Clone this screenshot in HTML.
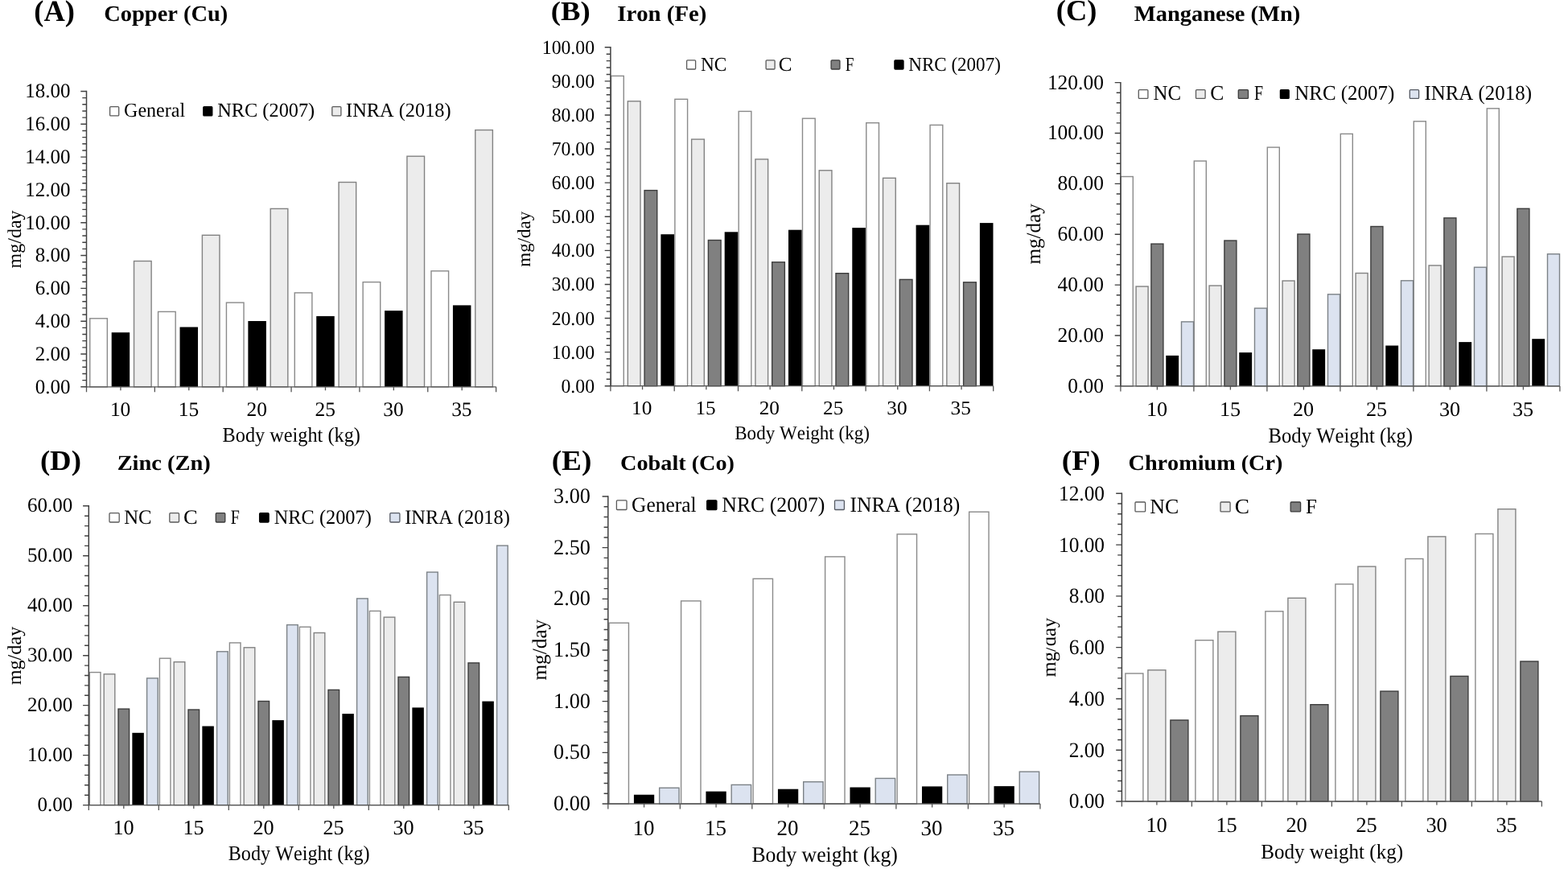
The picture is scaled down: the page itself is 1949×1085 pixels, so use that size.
<!DOCTYPE html>
<html><head><meta charset="utf-8"><title>Mineral requirements</title>
<style>
html,body{margin:0;padding:0;background:#fff;}
body{width:1949px;height:1085px;overflow:hidden;}
svg{display:block;font-family:'Liberation Serif','Times New Roman',serif;font-kerning:none;text-rendering:geometricPrecision;}
</style></head><body>
<svg width="1949" height="1085" viewBox="0 0 1949 1085">
<rect width="1949" height="1085" fill="#fff"/>
<defs><clipPath id="clipF"><rect x="1300.5" y="700" width="40" height="200"/></clipPath></defs>
<rect x="111.73" y="395.80" width="21.60" height="85.00" fill="#ffffff" stroke="#8a8a8a" stroke-width="1.40"/>
<rect x="196.57" y="387.40" width="21.60" height="93.40" fill="#ffffff" stroke="#8a8a8a" stroke-width="1.40"/>
<rect x="281.43" y="376.10" width="21.60" height="104.70" fill="#ffffff" stroke="#8a8a8a" stroke-width="1.40"/>
<rect x="366.28" y="363.90" width="21.60" height="116.90" fill="#ffffff" stroke="#8a8a8a" stroke-width="1.40"/>
<rect x="451.13" y="350.60" width="21.60" height="130.20" fill="#ffffff" stroke="#8a8a8a" stroke-width="1.40"/>
<rect x="535.98" y="336.80" width="21.60" height="144.00" fill="#ffffff" stroke="#8a8a8a" stroke-width="1.40"/>
<rect x="138.68" y="413.20" width="22.50" height="67.60" fill="#000"/>
<rect x="223.53" y="406.50" width="22.50" height="74.30" fill="#000"/>
<rect x="308.38" y="399.00" width="22.50" height="81.80" fill="#000"/>
<rect x="393.23" y="392.90" width="22.50" height="87.90" fill="#000"/>
<rect x="478.08" y="386.10" width="22.50" height="94.70" fill="#000"/>
<rect x="562.93" y="379.40" width="22.50" height="101.40" fill="#000"/>
<rect x="166.53" y="324.50" width="21.60" height="156.30" fill="#ececec" stroke="#828282" stroke-width="1.40"/>
<rect x="251.38" y="292.30" width="21.60" height="188.50" fill="#ececec" stroke="#828282" stroke-width="1.40"/>
<rect x="336.22" y="259.40" width="21.60" height="221.40" fill="#ececec" stroke="#828282" stroke-width="1.40"/>
<rect x="421.07" y="226.50" width="21.60" height="254.30" fill="#ececec" stroke="#828282" stroke-width="1.40"/>
<rect x="505.93" y="194.20" width="21.60" height="286.60" fill="#ececec" stroke="#828282" stroke-width="1.40"/>
<rect x="590.78" y="161.60" width="21.60" height="319.20" fill="#ececec" stroke="#828282" stroke-width="1.40"/>
<path d="M107.50 480.80 H616.60" fill="none" stroke="#555" stroke-width="1.3"/>
<path d="M107.50 112.80 V481.40" fill="none" stroke="#404040" stroke-width="1.5"/>
<path d="M100.30 480.80H107.50M102.30 472.64H107.50M102.30 464.48H107.50M102.30 456.31H107.50M102.30 448.15H107.50M100.30 439.99H107.50M102.30 431.83H107.50M102.30 423.66H107.50M102.30 415.50H107.50M102.30 407.34H107.50M100.30 399.18H107.50M102.30 391.02H107.50M102.30 382.85H107.50M102.30 374.69H107.50M102.30 366.53H107.50M100.30 358.37H107.50M102.30 350.20H107.50M102.30 342.04H107.50M102.30 333.88H107.50M102.30 325.72H107.50M100.30 317.56H107.50M102.30 309.39H107.50M102.30 301.23H107.50M102.30 293.07H107.50M102.30 284.91H107.50M100.30 276.74H107.50M102.30 268.58H107.50M102.30 260.42H107.50M102.30 252.26H107.50M102.30 244.10H107.50M100.30 235.93H107.50M102.30 227.77H107.50M102.30 219.61H107.50M102.30 211.45H107.50M102.30 203.28H107.50M100.30 195.12H107.50M102.30 186.96H107.50M102.30 178.80H107.50M102.30 170.64H107.50M102.30 162.47H107.50M100.30 154.31H107.50M102.30 146.15H107.50M102.30 137.99H107.50M102.30 129.82H107.50M102.30 121.66H107.50M100.30 113.50H107.50" fill="none" stroke="#404040" stroke-width="1.4"/>
<path d="M107.50 480.80V487.30M149.93 480.80V485.30M192.35 480.80V487.30M234.78 480.80V485.30M277.20 480.80V487.30M319.62 480.80V485.30M362.05 480.80V487.30M404.48 480.80V485.30M446.90 480.80V487.30M489.33 480.80V485.30M531.75 480.80V487.30M574.18 480.80V485.30M616.60 480.80V487.30" fill="none" stroke="#555" stroke-width="1.3"/>
<rect x="136.60" y="132.60" width="11.10" height="11.30" rx="1" fill="#ffffff" stroke="#5a5a5a" stroke-width="1.3"/>
<rect x="252.80" y="132.60" width="11.00" height="11.30" rx="1" fill="#000000" stroke="#000" stroke-width="1.3"/>
<rect x="412.80" y="132.60" width="11.10" height="11.30" rx="1" fill="#ececec" stroke="#5a5a5a" stroke-width="1.3"/>
<text transform="translate(154.01,145.40) scale(0.973,1)" font-size="24.74" fill="#000">General</text>
<text transform="translate(270.30,145.40) scale(0.983,1)" font-size="24.74" fill="#000">NRC (2007)</text>
<text transform="translate(430.12,145.40) scale(0.984,1)" font-size="24.74" fill="#000">INRA (2018)</text>
<text transform="translate(43.85,488.60) scale(0.988,1)" font-size="25.27" fill="#000">0.00</text>
<text transform="translate(43.85,447.79) scale(0.988,1)" font-size="25.27" fill="#000">2.00</text>
<text transform="translate(43.85,406.98) scale(0.988,1)" font-size="25.27" fill="#000">4.00</text>
<text transform="translate(43.85,366.17) scale(0.988,1)" font-size="25.27" fill="#000">6.00</text>
<text transform="translate(43.85,325.36) scale(0.988,1)" font-size="25.27" fill="#000">8.00</text>
<text transform="translate(31.36,284.55) scale(0.988,1)" font-size="25.27" fill="#000">10.00</text>
<text transform="translate(31.36,243.74) scale(0.988,1)" font-size="25.27" fill="#000">12.00</text>
<text transform="translate(31.36,202.92) scale(0.988,1)" font-size="25.27" fill="#000">14.00</text>
<text transform="translate(31.36,162.11) scale(0.988,1)" font-size="25.27" fill="#000">16.00</text>
<text transform="translate(31.36,121.30) scale(0.988,1)" font-size="25.27" fill="#000">18.00</text>
<text transform="translate(136.89,517.35) scale(1.011,1)" font-size="25.19" fill="#000">10</text>
<text transform="translate(221.74,517.35) scale(1.011,1)" font-size="25.19" fill="#000">15</text>
<text transform="translate(306.59,517.35) scale(1.011,1)" font-size="25.19" fill="#000">20</text>
<text transform="translate(391.44,517.35) scale(1.011,1)" font-size="25.19" fill="#000">25</text>
<text transform="translate(476.29,517.35) scale(1.011,1)" font-size="25.19" fill="#000">30</text>
<text transform="translate(561.14,517.35) scale(1.011,1)" font-size="25.19" fill="#000">35</text>
<text transform="translate(276.60,549.40) scale(0.941,1)" font-size="25.81" fill="#000">Body weight (kg)</text>
<text transform="translate(26.00,333.40) rotate(-90)" font-size="24.00" fill="#000">mg/day</text>
<text transform="translate(42.30,25.70) scale(0.986,1)" font-size="36.96" font-weight="bold" fill="#000">(A)</text>
<text transform="translate(129.31,25.70) scale(1.029,1)" font-size="27.64" font-weight="bold" fill="#000">Copper (Cu)</text>
<rect x="759.57" y="94.40" width="15.70" height="385.30" fill="#ffffff" stroke="#8a8a8a" stroke-width="1.40"/>
<rect x="838.88" y="123.30" width="15.70" height="356.40" fill="#ffffff" stroke="#8a8a8a" stroke-width="1.40"/>
<rect x="918.17" y="138.40" width="15.70" height="341.30" fill="#ffffff" stroke="#8a8a8a" stroke-width="1.40"/>
<rect x="997.48" y="147.20" width="15.70" height="332.50" fill="#ffffff" stroke="#8a8a8a" stroke-width="1.40"/>
<rect x="1076.78" y="152.70" width="15.70" height="327.00" fill="#ffffff" stroke="#8a8a8a" stroke-width="1.40"/>
<rect x="1156.08" y="155.40" width="15.70" height="324.30" fill="#ffffff" stroke="#8a8a8a" stroke-width="1.40"/>
<rect x="780.32" y="125.80" width="15.70" height="353.90" fill="#ececec" stroke="#828282" stroke-width="1.40"/>
<rect x="859.62" y="173.10" width="15.70" height="306.60" fill="#ececec" stroke="#828282" stroke-width="1.40"/>
<rect x="938.92" y="197.90" width="15.70" height="281.80" fill="#ececec" stroke="#828282" stroke-width="1.40"/>
<rect x="1018.23" y="211.80" width="15.70" height="267.90" fill="#ececec" stroke="#828282" stroke-width="1.40"/>
<rect x="1097.53" y="221.30" width="15.70" height="258.40" fill="#ececec" stroke="#828282" stroke-width="1.40"/>
<rect x="1176.83" y="227.70" width="15.70" height="252.00" fill="#ececec" stroke="#828282" stroke-width="1.40"/>
<rect x="801.07" y="236.60" width="15.70" height="243.10" fill="#808080" stroke="#3c3c3c" stroke-width="1.40"/>
<rect x="880.38" y="298.50" width="15.70" height="181.20" fill="#808080" stroke="#3c3c3c" stroke-width="1.40"/>
<rect x="959.67" y="325.80" width="15.70" height="153.90" fill="#808080" stroke="#3c3c3c" stroke-width="1.40"/>
<rect x="1038.98" y="339.70" width="15.70" height="140.00" fill="#808080" stroke="#3c3c3c" stroke-width="1.40"/>
<rect x="1118.28" y="347.40" width="15.70" height="132.30" fill="#808080" stroke="#3c3c3c" stroke-width="1.40"/>
<rect x="1197.58" y="350.80" width="15.70" height="128.90" fill="#808080" stroke="#3c3c3c" stroke-width="1.40"/>
<rect x="821.38" y="291.20" width="16.60" height="188.50" fill="#000"/>
<rect x="900.68" y="288.30" width="16.60" height="191.40" fill="#000"/>
<rect x="979.98" y="285.70" width="16.60" height="194.00" fill="#000"/>
<rect x="1059.28" y="283.10" width="16.60" height="196.60" fill="#000"/>
<rect x="1138.58" y="279.70" width="16.60" height="200.00" fill="#000"/>
<rect x="1217.88" y="277.10" width="16.60" height="202.60" fill="#000"/>
<path d="M758.90 479.70 H1234.70" fill="none" stroke="#555" stroke-width="1.3"/>
<path d="M758.90 58.10 V480.30" fill="none" stroke="#404040" stroke-width="1.5"/>
<path d="M751.70 479.70H758.90M753.70 471.28H758.90M753.70 462.86H758.90M753.70 454.45H758.90M753.70 446.03H758.90M751.70 437.61H758.90M753.70 429.19H758.90M753.70 420.77H758.90M753.70 412.36H758.90M753.70 403.94H758.90M751.70 395.52H758.90M753.70 387.10H758.90M753.70 378.68H758.90M753.70 370.27H758.90M753.70 361.85H758.90M751.70 353.43H758.90M753.70 345.01H758.90M753.70 336.59H758.90M753.70 328.18H758.90M753.70 319.76H758.90M751.70 311.34H758.90M753.70 302.92H758.90M753.70 294.50H758.90M753.70 286.09H758.90M753.70 277.67H758.90M751.70 269.25H758.90M753.70 260.83H758.90M753.70 252.41H758.90M753.70 244.00H758.90M753.70 235.58H758.90M751.70 227.16H758.90M753.70 218.74H758.90M753.70 210.32H758.90M753.70 201.91H758.90M753.70 193.49H758.90M751.70 185.07H758.90M753.70 176.65H758.90M753.70 168.23H758.90M753.70 159.82H758.90M753.70 151.40H758.90M751.70 142.98H758.90M753.70 134.56H758.90M753.70 126.14H758.90M753.70 117.73H758.90M753.70 109.31H758.90M751.70 100.89H758.90M753.70 92.47H758.90M753.70 84.05H758.90M753.70 75.64H758.90M753.70 67.22H758.90M751.70 58.80H758.90" fill="none" stroke="#404040" stroke-width="1.4"/>
<path d="M758.90 479.70V486.20M798.55 479.70V484.20M838.20 479.70V486.20M877.85 479.70V484.20M917.50 479.70V486.20M957.15 479.70V484.20M996.80 479.70V486.20M1036.45 479.70V484.20M1076.10 479.70V486.20M1115.75 479.70V484.20M1155.40 479.70V486.20M1195.05 479.70V484.20M1234.70 479.70V486.20" fill="none" stroke="#555" stroke-width="1.3"/>
<rect x="853.60" y="74.80" width="11.00" height="11.20" rx="1" fill="#ffffff" stroke="#5a5a5a" stroke-width="1.3"/>
<rect x="952.10" y="74.80" width="11.00" height="11.20" rx="1" fill="#ececec" stroke="#5a5a5a" stroke-width="1.3"/>
<rect x="1033.10" y="74.80" width="10.80" height="11.20" rx="1" fill="#808080" stroke="#3a3a3a" stroke-width="1.3"/>
<rect x="1111.90" y="74.80" width="11.10" height="11.20" rx="1" fill="#000000" stroke="#000" stroke-width="1.3"/>
<text transform="translate(870.93,87.80) scale(0.953,1)" font-size="24.44" fill="#000">NC</text>
<text transform="translate(967.67,87.80) scale(1.025,1)" font-size="24.44" fill="#000">C</text>
<text transform="translate(1050.84,87.80) scale(0.791,1)" font-size="24.44" fill="#000">F</text>
<text transform="translate(1129.24,87.80) scale(0.943,1)" font-size="24.44" fill="#000">NRC (2007)</text>
<text transform="translate(697.50,487.75) scale(0.965,1)" font-size="24.59" fill="#000">0.00</text>
<text transform="translate(685.64,445.66) scale(0.965,1)" font-size="24.59" fill="#000">10.00</text>
<text transform="translate(685.64,403.57) scale(0.965,1)" font-size="24.59" fill="#000">20.00</text>
<text transform="translate(685.64,361.48) scale(0.965,1)" font-size="24.59" fill="#000">30.00</text>
<text transform="translate(685.64,319.39) scale(0.965,1)" font-size="24.59" fill="#000">40.00</text>
<text transform="translate(685.64,277.30) scale(0.965,1)" font-size="24.59" fill="#000">50.00</text>
<text transform="translate(685.64,235.21) scale(0.965,1)" font-size="24.59" fill="#000">60.00</text>
<text transform="translate(685.64,193.12) scale(0.965,1)" font-size="24.59" fill="#000">70.00</text>
<text transform="translate(685.64,151.03) scale(0.965,1)" font-size="24.59" fill="#000">80.00</text>
<text transform="translate(685.64,108.94) scale(0.965,1)" font-size="24.59" fill="#000">90.00</text>
<text transform="translate(673.78,66.85) scale(0.965,1)" font-size="24.59" fill="#000">100.00</text>
<text transform="translate(785.12,514.86) scale(1.045,1)" font-size="24.16" fill="#000">10</text>
<text transform="translate(864.42,514.86) scale(1.045,1)" font-size="24.16" fill="#000">15</text>
<text transform="translate(943.72,514.86) scale(1.045,1)" font-size="24.16" fill="#000">20</text>
<text transform="translate(1023.02,514.86) scale(1.045,1)" font-size="24.16" fill="#000">25</text>
<text transform="translate(1102.32,514.86) scale(1.045,1)" font-size="24.16" fill="#000">30</text>
<text transform="translate(1181.62,514.86) scale(1.045,1)" font-size="24.16" fill="#000">35</text>
<text transform="translate(913.24,545.60) scale(0.952,1)" font-size="24.21" fill="#000">Body Weight (kg)</text>
<text transform="translate(659.30,331.78) rotate(-90)" font-size="23.06" fill="#000">mg/day</text>
<text transform="translate(684.79,25.40) scale(1.092,1)" font-size="33.60" font-weight="bold" fill="#000">(B)</text>
<text transform="translate(767.23,26.00) scale(1.042,1)" font-size="27.64" font-weight="bold" fill="#000">Iron (Fe)</text>
<rect x="1393.30" y="219.50" width="15.00" height="260.40" fill="#ffffff" stroke="#8a8a8a" stroke-width="1.40"/>
<rect x="1484.30" y="200.10" width="15.00" height="279.80" fill="#ffffff" stroke="#8a8a8a" stroke-width="1.40"/>
<rect x="1575.30" y="183.10" width="15.00" height="296.80" fill="#ffffff" stroke="#8a8a8a" stroke-width="1.40"/>
<rect x="1666.30" y="166.40" width="15.00" height="313.50" fill="#ffffff" stroke="#8a8a8a" stroke-width="1.40"/>
<rect x="1757.30" y="150.80" width="15.00" height="329.10" fill="#ffffff" stroke="#8a8a8a" stroke-width="1.40"/>
<rect x="1848.30" y="134.80" width="15.00" height="345.10" fill="#ffffff" stroke="#8a8a8a" stroke-width="1.40"/>
<rect x="1412.10" y="356.00" width="15.00" height="123.90" fill="#ececec" stroke="#828282" stroke-width="1.40"/>
<rect x="1503.10" y="355.00" width="15.00" height="124.90" fill="#ececec" stroke="#828282" stroke-width="1.40"/>
<rect x="1594.10" y="349.00" width="15.00" height="130.90" fill="#ececec" stroke="#828282" stroke-width="1.40"/>
<rect x="1685.10" y="339.50" width="15.00" height="140.40" fill="#ececec" stroke="#828282" stroke-width="1.40"/>
<rect x="1776.10" y="329.90" width="15.00" height="150.00" fill="#ececec" stroke="#828282" stroke-width="1.40"/>
<rect x="1867.10" y="319.00" width="15.00" height="160.90" fill="#ececec" stroke="#828282" stroke-width="1.40"/>
<rect x="1430.90" y="303.10" width="15.00" height="176.80" fill="#808080" stroke="#3c3c3c" stroke-width="1.40"/>
<rect x="1521.90" y="299.00" width="15.00" height="180.90" fill="#808080" stroke="#3c3c3c" stroke-width="1.40"/>
<rect x="1612.90" y="291.00" width="15.00" height="188.90" fill="#808080" stroke="#3c3c3c" stroke-width="1.40"/>
<rect x="1703.90" y="281.50" width="15.00" height="198.40" fill="#808080" stroke="#3c3c3c" stroke-width="1.40"/>
<rect x="1794.90" y="270.90" width="15.00" height="209.00" fill="#808080" stroke="#3c3c3c" stroke-width="1.40"/>
<rect x="1885.90" y="259.30" width="15.00" height="220.60" fill="#808080" stroke="#3c3c3c" stroke-width="1.40"/>
<rect x="1449.25" y="441.90" width="15.90" height="38.00" fill="#000"/>
<rect x="1540.25" y="438.10" width="15.90" height="41.80" fill="#000"/>
<rect x="1631.25" y="434.20" width="15.90" height="45.70" fill="#000"/>
<rect x="1722.25" y="429.50" width="15.90" height="50.40" fill="#000"/>
<rect x="1813.25" y="425.10" width="15.90" height="54.80" fill="#000"/>
<rect x="1904.25" y="421.20" width="15.90" height="58.70" fill="#000"/>
<rect x="1468.50" y="399.90" width="15.00" height="80.00" fill="#dce3f0" stroke="#7c8287" stroke-width="1.40"/>
<rect x="1559.50" y="383.10" width="15.00" height="96.80" fill="#dce3f0" stroke="#7c8287" stroke-width="1.40"/>
<rect x="1650.50" y="365.80" width="15.00" height="114.10" fill="#dce3f0" stroke="#7c8287" stroke-width="1.40"/>
<rect x="1741.50" y="348.80" width="15.00" height="131.10" fill="#dce3f0" stroke="#7c8287" stroke-width="1.40"/>
<rect x="1832.50" y="332.20" width="15.00" height="147.70" fill="#dce3f0" stroke="#7c8287" stroke-width="1.40"/>
<rect x="1923.50" y="315.70" width="15.00" height="164.20" fill="#dce3f0" stroke="#7c8287" stroke-width="1.40"/>
<path d="M1392.90 479.90 H1938.90" fill="none" stroke="#555" stroke-width="1.3"/>
<path d="M1392.90 101.90 V480.50" fill="none" stroke="#404040" stroke-width="1.5"/>
<path d="M1385.70 479.90H1392.90M1387.70 467.32H1392.90M1387.70 454.75H1392.90M1387.70 442.17H1392.90M1387.70 429.59H1392.90M1385.70 417.02H1392.90M1387.70 404.44H1392.90M1387.70 391.86H1392.90M1387.70 379.29H1392.90M1387.70 366.71H1392.90M1385.70 354.13H1392.90M1387.70 341.56H1392.90M1387.70 328.98H1392.90M1387.70 316.40H1392.90M1387.70 303.83H1392.90M1385.70 291.25H1392.90M1387.70 278.67H1392.90M1387.70 266.10H1392.90M1387.70 253.52H1392.90M1387.70 240.94H1392.90M1385.70 228.37H1392.90M1387.70 215.79H1392.90M1387.70 203.21H1392.90M1387.70 190.64H1392.90M1387.70 178.06H1392.90M1385.70 165.48H1392.90M1387.70 152.91H1392.90M1387.70 140.33H1392.90M1387.70 127.75H1392.90M1387.70 115.18H1392.90M1385.70 102.60H1392.90" fill="none" stroke="#404040" stroke-width="1.4"/>
<path d="M1392.90 479.90V486.40M1438.40 479.90V484.40M1483.90 479.90V486.40M1529.40 479.90V484.40M1574.90 479.90V486.40M1620.40 479.90V484.40M1665.90 479.90V486.40M1711.40 479.90V484.40M1756.90 479.90V486.40M1802.40 479.90V484.40M1847.90 479.90V486.40M1893.40 479.90V484.40M1938.90 479.90V486.40" fill="none" stroke="#555" stroke-width="1.3"/>
<rect x="1415.30" y="111.60" width="11.60" height="10.80" rx="1" fill="#ffffff" stroke="#5a5a5a" stroke-width="1.3"/>
<rect x="1486.50" y="111.60" width="11.60" height="10.80" rx="1" fill="#ececec" stroke="#5a5a5a" stroke-width="1.3"/>
<rect x="1539.30" y="111.60" width="12.20" height="10.80" rx="1" fill="#808080" stroke="#3a3a3a" stroke-width="1.3"/>
<rect x="1591.40" y="111.60" width="10.80" height="10.80" rx="1" fill="#000000" stroke="#000" stroke-width="1.3"/>
<rect x="1752.30" y="111.60" width="11.30" height="10.80" rx="1" fill="#dce3f0" stroke="#555a63" stroke-width="1.3"/>
<text transform="translate(1433.48,124.30) scale(0.959,1)" font-size="25.96" fill="#000">NC</text>
<text transform="translate(1504.35,124.30) scale(0.985,1)" font-size="25.96" fill="#000">C</text>
<text transform="translate(1559.03,124.30) scale(0.768,1)" font-size="25.96" fill="#000">F</text>
<text transform="translate(1609.28,124.30) scale(0.961,1)" font-size="25.96" fill="#000">NRC (2007)</text>
<text transform="translate(1770.50,124.30) scale(0.959,1)" font-size="25.96" fill="#000">INRA (2018)</text>
<text transform="translate(1327.33,487.83) scale(0.977,1)" font-size="26.06" fill="#000">0.00</text>
<text transform="translate(1314.61,424.95) scale(0.977,1)" font-size="26.06" fill="#000">20.00</text>
<text transform="translate(1314.61,362.06) scale(0.977,1)" font-size="26.06" fill="#000">40.00</text>
<text transform="translate(1314.61,299.18) scale(0.977,1)" font-size="26.06" fill="#000">60.00</text>
<text transform="translate(1314.61,236.30) scale(0.977,1)" font-size="26.06" fill="#000">80.00</text>
<text transform="translate(1301.88,173.41) scale(0.977,1)" font-size="26.06" fill="#000">100.00</text>
<text transform="translate(1301.88,110.53) scale(0.977,1)" font-size="26.06" fill="#000">120.00</text>
<text transform="translate(1425.01,517.15) scale(1.028,1)" font-size="25.49" fill="#000">10</text>
<text transform="translate(1516.01,517.15) scale(1.028,1)" font-size="25.49" fill="#000">15</text>
<text transform="translate(1607.01,517.15) scale(1.028,1)" font-size="25.49" fill="#000">20</text>
<text transform="translate(1698.01,517.15) scale(1.028,1)" font-size="25.49" fill="#000">25</text>
<text transform="translate(1789.01,517.15) scale(1.028,1)" font-size="25.49" fill="#000">30</text>
<text transform="translate(1880.01,517.15) scale(1.028,1)" font-size="25.49" fill="#000">35</text>
<text transform="translate(1576.49,550.40) scale(0.929,1)" font-size="26.57" fill="#000">Body Weight (kg)</text>
<text transform="translate(1293.00,328.53) rotate(-90)" font-size="25.15" fill="#000">mg/day</text>
<text transform="translate(1312.80,25.40)" font-size="36.40" font-weight="bold" fill="#000">(C)</text>
<text transform="translate(1409.81,26.00) scale(1.042,1)" font-size="27.34" font-weight="bold" fill="#000">Manganese (Mn)</text>
<rect x="111.40" y="835.60" width="13.60" height="165.00" fill="#ffffff" stroke="#8a8a8a" stroke-width="1.40"/>
<rect x="198.40" y="818.20" width="13.60" height="182.40" fill="#ffffff" stroke="#8a8a8a" stroke-width="1.40"/>
<rect x="285.40" y="798.90" width="13.60" height="201.70" fill="#ffffff" stroke="#8a8a8a" stroke-width="1.40"/>
<rect x="372.40" y="779.20" width="13.60" height="221.40" fill="#ffffff" stroke="#8a8a8a" stroke-width="1.40"/>
<rect x="459.40" y="759.40" width="13.60" height="241.20" fill="#ffffff" stroke="#8a8a8a" stroke-width="1.40"/>
<rect x="546.40" y="739.50" width="13.60" height="261.10" fill="#ffffff" stroke="#8a8a8a" stroke-width="1.40"/>
<rect x="129.20" y="837.80" width="13.60" height="162.80" fill="#ececec" stroke="#828282" stroke-width="1.40"/>
<rect x="216.20" y="822.70" width="13.60" height="177.90" fill="#ececec" stroke="#828282" stroke-width="1.40"/>
<rect x="303.20" y="804.80" width="13.60" height="195.80" fill="#ececec" stroke="#828282" stroke-width="1.40"/>
<rect x="390.20" y="786.50" width="13.60" height="214.10" fill="#ececec" stroke="#828282" stroke-width="1.40"/>
<rect x="477.20" y="767.10" width="13.60" height="233.50" fill="#ececec" stroke="#828282" stroke-width="1.40"/>
<rect x="564.20" y="748.30" width="13.60" height="252.30" fill="#ececec" stroke="#828282" stroke-width="1.40"/>
<rect x="147.00" y="881.10" width="13.60" height="119.50" fill="#808080" stroke="#3c3c3c" stroke-width="1.40"/>
<rect x="234.00" y="882.00" width="13.60" height="118.60" fill="#808080" stroke="#3c3c3c" stroke-width="1.40"/>
<rect x="321.00" y="871.50" width="13.60" height="129.10" fill="#808080" stroke="#3c3c3c" stroke-width="1.40"/>
<rect x="408.00" y="857.40" width="13.60" height="143.20" fill="#808080" stroke="#3c3c3c" stroke-width="1.40"/>
<rect x="495.00" y="841.40" width="13.60" height="159.20" fill="#808080" stroke="#3c3c3c" stroke-width="1.40"/>
<rect x="582.00" y="823.90" width="13.60" height="176.70" fill="#808080" stroke="#3c3c3c" stroke-width="1.40"/>
<rect x="164.35" y="910.80" width="14.50" height="89.80" fill="#000"/>
<rect x="251.35" y="902.50" width="14.50" height="98.10" fill="#000"/>
<rect x="338.35" y="895.10" width="14.50" height="105.50" fill="#000"/>
<rect x="425.35" y="887.10" width="14.50" height="113.50" fill="#000"/>
<rect x="512.35" y="879.40" width="14.50" height="121.20" fill="#000"/>
<rect x="599.35" y="871.60" width="14.50" height="129.00" fill="#000"/>
<rect x="182.60" y="842.90" width="13.60" height="157.70" fill="#dce3f0" stroke="#7c8287" stroke-width="1.40"/>
<rect x="269.60" y="809.80" width="13.60" height="190.80" fill="#dce3f0" stroke="#7c8287" stroke-width="1.40"/>
<rect x="356.60" y="776.60" width="13.60" height="224.00" fill="#dce3f0" stroke="#7c8287" stroke-width="1.40"/>
<rect x="443.60" y="743.90" width="13.60" height="256.70" fill="#dce3f0" stroke="#7c8287" stroke-width="1.40"/>
<rect x="530.60" y="711.10" width="13.60" height="289.50" fill="#dce3f0" stroke="#7c8287" stroke-width="1.40"/>
<rect x="617.60" y="678.10" width="13.60" height="322.50" fill="#dce3f0" stroke="#7c8287" stroke-width="1.40"/>
<path d="M110.30 1000.60 H632.30" fill="none" stroke="#555" stroke-width="1.3"/>
<path d="M110.30 628.10 V1001.20" fill="none" stroke="#404040" stroke-width="1.5"/>
<path d="M103.10 1000.60H110.30M105.10 988.21H110.30M105.10 975.81H110.30M105.10 963.42H110.30M105.10 951.03H110.30M103.10 938.63H110.30M105.10 926.24H110.30M105.10 913.85H110.30M105.10 901.45H110.30M105.10 889.06H110.30M103.10 876.67H110.30M105.10 864.27H110.30M105.10 851.88H110.30M105.10 839.49H110.30M105.10 827.09H110.30M103.10 814.70H110.30M105.10 802.31H110.30M105.10 789.91H110.30M105.10 777.52H110.30M105.10 765.13H110.30M103.10 752.73H110.30M105.10 740.34H110.30M105.10 727.95H110.30M105.10 715.55H110.30M105.10 703.16H110.30M103.10 690.77H110.30M105.10 678.37H110.30M105.10 665.98H110.30M105.10 653.59H110.30M105.10 641.19H110.30M103.10 628.80H110.30" fill="none" stroke="#404040" stroke-width="1.4"/>
<path d="M110.30 1000.60V1007.10M153.80 1000.60V1005.10M197.30 1000.60V1007.10M240.80 1000.60V1005.10M284.30 1000.60V1007.10M327.80 1000.60V1005.10M371.30 1000.60V1007.10M414.80 1000.60V1005.10M458.30 1000.60V1007.10M501.80 1000.60V1005.10M545.30 1000.60V1007.10M588.80 1000.60V1005.10M632.30 1000.60V1007.10" fill="none" stroke="#555" stroke-width="1.3"/>
<rect x="136.00" y="637.70" width="12.20" height="11.30" rx="1" fill="#ffffff" stroke="#5a5a5a" stroke-width="1.3"/>
<rect x="210.80" y="637.70" width="11.70" height="11.30" rx="1" fill="#ececec" stroke="#5a5a5a" stroke-width="1.3"/>
<rect x="268.30" y="637.70" width="11.50" height="11.30" rx="1" fill="#808080" stroke="#3a3a3a" stroke-width="1.3"/>
<rect x="322.60" y="637.70" width="11.50" height="11.30" rx="1" fill="#000000" stroke="#000" stroke-width="1.3"/>
<rect x="484.80" y="637.70" width="12.10" height="11.30" rx="1" fill="#dce3f0" stroke="#555a63" stroke-width="1.3"/>
<text transform="translate(154.19,651.20) scale(0.982,1)" font-size="25.20" fill="#000">NC</text>
<text transform="translate(227.91,651.20) scale(1.050,1)" font-size="25.20" fill="#000">C</text>
<text transform="translate(286.63,651.20) scale(0.792,1)" font-size="25.20" fill="#000">F</text>
<text transform="translate(340.80,651.20) scale(0.966,1)" font-size="25.20" fill="#000">NRC (2007)</text>
<text transform="translate(503.22,651.20) scale(0.967,1)" font-size="25.20" fill="#000">INRA (2018)</text>
<text transform="translate(46.45,1008.04) scale(0.994,1)" font-size="25.18" fill="#000">0.00</text>
<text transform="translate(33.93,946.08) scale(0.994,1)" font-size="25.18" fill="#000">10.00</text>
<text transform="translate(33.93,884.11) scale(0.994,1)" font-size="25.18" fill="#000">20.00</text>
<text transform="translate(33.93,822.14) scale(0.994,1)" font-size="25.18" fill="#000">30.00</text>
<text transform="translate(33.93,760.18) scale(0.994,1)" font-size="25.18" fill="#000">40.00</text>
<text transform="translate(33.93,698.21) scale(0.994,1)" font-size="25.18" fill="#000">50.00</text>
<text transform="translate(33.93,636.24) scale(0.994,1)" font-size="25.18" fill="#000">60.00</text>
<text transform="translate(140.51,1036.95) scale(1.016,1)" font-size="25.79" fill="#000">10</text>
<text transform="translate(227.51,1036.95) scale(1.016,1)" font-size="25.79" fill="#000">15</text>
<text transform="translate(314.51,1036.95) scale(1.016,1)" font-size="25.79" fill="#000">20</text>
<text transform="translate(401.51,1036.95) scale(1.016,1)" font-size="25.79" fill="#000">25</text>
<text transform="translate(488.51,1036.95) scale(1.016,1)" font-size="25.79" fill="#000">30</text>
<text transform="translate(575.51,1036.95) scale(1.016,1)" font-size="25.79" fill="#000">35</text>
<text transform="translate(283.70,1069.00) scale(0.926,1)" font-size="26.12" fill="#000">Body Weight (kg)</text>
<text transform="translate(26.00,851.31) rotate(-90)" font-size="24.20" fill="#000">mg/day</text>
<text transform="translate(49.88,584.10) scale(1.051,1)" font-size="34.97" font-weight="bold" fill="#000">(D)</text>
<text transform="translate(145.64,584.10) scale(1.077,1)" font-size="26.42" font-weight="bold" fill="#000">Zinc (Zn)</text>
<rect x="757.06" y="774.20" width="24.40" height="224.80" fill="#ffffff" stroke="#8a8a8a" stroke-width="1.40"/>
<rect x="846.58" y="746.90" width="24.40" height="252.10" fill="#ffffff" stroke="#8a8a8a" stroke-width="1.40"/>
<rect x="936.09" y="719.30" width="24.40" height="279.70" fill="#ffffff" stroke="#8a8a8a" stroke-width="1.40"/>
<rect x="1025.61" y="691.90" width="24.40" height="307.10" fill="#ffffff" stroke="#8a8a8a" stroke-width="1.40"/>
<rect x="1115.12" y="663.90" width="24.40" height="335.10" fill="#ffffff" stroke="#8a8a8a" stroke-width="1.40"/>
<rect x="1204.64" y="636.20" width="24.40" height="362.80" fill="#ffffff" stroke="#8a8a8a" stroke-width="1.40"/>
<rect x="787.91" y="987.70" width="25.30" height="11.30" fill="#000"/>
<rect x="877.43" y="983.60" width="25.30" height="15.40" fill="#000"/>
<rect x="966.94" y="980.70" width="25.30" height="18.30" fill="#000"/>
<rect x="1056.46" y="978.50" width="25.30" height="20.50" fill="#000"/>
<rect x="1145.97" y="977.40" width="25.30" height="21.60" fill="#000"/>
<rect x="1235.49" y="977.10" width="25.30" height="21.90" fill="#000"/>
<rect x="819.66" y="979.20" width="24.40" height="19.80" fill="#dce3f0" stroke="#7c8287" stroke-width="1.40"/>
<rect x="909.17" y="975.40" width="24.40" height="23.60" fill="#dce3f0" stroke="#7c8287" stroke-width="1.40"/>
<rect x="998.69" y="971.70" width="24.40" height="27.30" fill="#dce3f0" stroke="#7c8287" stroke-width="1.40"/>
<rect x="1088.21" y="967.40" width="24.40" height="31.60" fill="#dce3f0" stroke="#7c8287" stroke-width="1.40"/>
<rect x="1177.72" y="963.00" width="24.40" height="36.00" fill="#dce3f0" stroke="#7c8287" stroke-width="1.40"/>
<rect x="1267.24" y="959.10" width="24.40" height="39.90" fill="#dce3f0" stroke="#7c8287" stroke-width="1.40"/>
<path d="M755.80 999.00 H1292.90" fill="none" stroke="#555" stroke-width="1.3"/>
<path d="M755.80 616.30 V999.60" fill="none" stroke="#404040" stroke-width="1.5"/>
<path d="M748.60 999.00H755.80M750.60 986.27H755.80M750.60 973.53H755.80M750.60 960.80H755.80M750.60 948.07H755.80M748.60 935.33H755.80M750.60 922.60H755.80M750.60 909.87H755.80M750.60 897.13H755.80M750.60 884.40H755.80M748.60 871.67H755.80M750.60 858.93H755.80M750.60 846.20H755.80M750.60 833.47H755.80M750.60 820.73H755.80M748.60 808.00H755.80M750.60 795.27H755.80M750.60 782.53H755.80M750.60 769.80H755.80M750.60 757.07H755.80M748.60 744.33H755.80M750.60 731.60H755.80M750.60 718.87H755.80M750.60 706.13H755.80M750.60 693.40H755.80M748.60 680.67H755.80M750.60 667.93H755.80M750.60 655.20H755.80M750.60 642.47H755.80M750.60 629.73H755.80M748.60 617.00H755.80" fill="none" stroke="#404040" stroke-width="1.4"/>
<path d="M755.80 999.00V1005.50M800.56 999.00V1003.50M845.32 999.00V1005.50M890.08 999.00V1003.50M934.83 999.00V1005.50M979.59 999.00V1003.50M1024.35 999.00V1005.50M1069.11 999.00V1003.50M1113.87 999.00V1005.50M1158.62 999.00V1003.50M1203.38 999.00V1005.50M1248.14 999.00V1003.50M1292.90 999.00V1005.50" fill="none" stroke="#555" stroke-width="1.3"/>
<rect x="766.40" y="621.80" width="12.60" height="11.70" rx="1" fill="#ffffff" stroke="#5a5a5a" stroke-width="1.3"/>
<rect x="878.70" y="621.80" width="12.20" height="11.70" rx="1" fill="#000000" stroke="#000" stroke-width="1.3"/>
<rect x="1037.50" y="621.80" width="11.90" height="11.70" rx="1" fill="#dce3f0" stroke="#555a63" stroke-width="1.3"/>
<text transform="translate(785.06,635.60) scale(0.957,1)" font-size="26.57" fill="#000">General</text>
<text transform="translate(897.36,635.60) scale(0.969,1)" font-size="26.57" fill="#000">NRC (2007)</text>
<text transform="translate(1056.58,635.60) scale(0.960,1)" font-size="26.57" fill="#000">INRA (2018)</text>
<text transform="translate(688.10,1007.12) scale(0.978,1)" font-size="26.80" fill="#000">0.00</text>
<text transform="translate(688.10,943.45) scale(0.978,1)" font-size="26.80" fill="#000">0.50</text>
<text transform="translate(688.10,879.79) scale(0.978,1)" font-size="26.80" fill="#000">1.00</text>
<text transform="translate(688.10,816.12) scale(0.978,1)" font-size="26.80" fill="#000">1.50</text>
<text transform="translate(688.10,752.45) scale(0.978,1)" font-size="26.80" fill="#000">2.00</text>
<text transform="translate(688.10,688.79) scale(0.978,1)" font-size="26.80" fill="#000">2.50</text>
<text transform="translate(688.10,625.12) scale(0.978,1)" font-size="26.80" fill="#000">3.00</text>
<text transform="translate(786.43,1037.54)" font-size="26.97" fill="#000">10</text>
<text transform="translate(875.94,1037.54)" font-size="26.97" fill="#000">15</text>
<text transform="translate(965.46,1037.54)" font-size="26.97" fill="#000">20</text>
<text transform="translate(1054.98,1037.54)" font-size="26.97" fill="#000">25</text>
<text transform="translate(1144.49,1037.54)" font-size="26.97" fill="#000">30</text>
<text transform="translate(1234.01,1037.54)" font-size="26.97" fill="#000">35</text>
<text transform="translate(934.46,1071.00) scale(0.946,1)" font-size="27.18" fill="#000">Body weight (kg)</text>
<text transform="translate(679.30,845.53) rotate(-90)" font-size="25.25" fill="#000">mg/day</text>
<text transform="translate(685.66,584.10) scale(1.066,1)" font-size="34.97" font-weight="bold" fill="#000">(E)</text>
<text transform="translate(771.12,584.10) scale(1.080,1)" font-size="26.13" font-weight="bold" fill="#000">Cobalt (Co)</text>
<rect x="1398.90" y="837.00" width="22.00" height="159.00" fill="#ffffff" stroke="#8a8a8a" stroke-width="1.40"/>
<rect x="1485.90" y="795.70" width="22.00" height="200.30" fill="#ffffff" stroke="#8a8a8a" stroke-width="1.40"/>
<rect x="1572.90" y="759.80" width="22.00" height="236.20" fill="#ffffff" stroke="#8a8a8a" stroke-width="1.40"/>
<rect x="1659.90" y="726.00" width="22.00" height="270.00" fill="#ffffff" stroke="#8a8a8a" stroke-width="1.40"/>
<rect x="1746.90" y="694.50" width="22.00" height="301.50" fill="#ffffff" stroke="#8a8a8a" stroke-width="1.40"/>
<rect x="1833.90" y="663.50" width="22.00" height="332.50" fill="#ffffff" stroke="#8a8a8a" stroke-width="1.40"/>
<rect x="1426.90" y="832.80" width="22.00" height="163.20" fill="#ececec" stroke="#828282" stroke-width="1.40"/>
<rect x="1513.90" y="785.10" width="22.00" height="210.90" fill="#ececec" stroke="#828282" stroke-width="1.40"/>
<rect x="1600.90" y="743.30" width="22.00" height="252.70" fill="#ececec" stroke="#828282" stroke-width="1.40"/>
<rect x="1687.90" y="704.10" width="22.00" height="291.90" fill="#ececec" stroke="#828282" stroke-width="1.40"/>
<rect x="1774.90" y="666.90" width="22.00" height="329.10" fill="#ececec" stroke="#828282" stroke-width="1.40"/>
<rect x="1861.90" y="632.70" width="22.00" height="363.30" fill="#ececec" stroke="#828282" stroke-width="1.40"/>
<rect x="1454.90" y="895.00" width="22.00" height="101.00" fill="#808080" stroke="#3c3c3c" stroke-width="1.40"/>
<rect x="1541.90" y="889.60" width="22.00" height="106.40" fill="#808080" stroke="#3c3c3c" stroke-width="1.40"/>
<rect x="1628.90" y="875.70" width="22.00" height="120.30" fill="#808080" stroke="#3c3c3c" stroke-width="1.40"/>
<rect x="1715.90" y="859.10" width="22.00" height="136.90" fill="#808080" stroke="#3c3c3c" stroke-width="1.40"/>
<rect x="1802.90" y="840.40" width="22.00" height="155.60" fill="#808080" stroke="#3c3c3c" stroke-width="1.40"/>
<rect x="1889.90" y="822.00" width="22.00" height="174.00" fill="#808080" stroke="#3c3c3c" stroke-width="1.40"/>
<path d="M1394.40 996.00 H1916.40" fill="none" stroke="#555" stroke-width="1.3"/>
<path d="M1394.40 612.60 V996.60" fill="none" stroke="#404040" stroke-width="1.5"/>
<path d="M1387.20 996.00H1394.40M1389.20 983.24H1394.40M1389.20 970.49H1394.40M1389.20 957.73H1394.40M1389.20 944.97H1394.40M1387.20 932.22H1394.40M1389.20 919.46H1394.40M1389.20 906.70H1394.40M1389.20 893.95H1394.40M1389.20 881.19H1394.40M1387.20 868.43H1394.40M1389.20 855.68H1394.40M1389.20 842.92H1394.40M1389.20 830.16H1394.40M1389.20 817.41H1394.40M1387.20 804.65H1394.40M1389.20 791.89H1394.40M1389.20 779.14H1394.40M1389.20 766.38H1394.40M1389.20 753.62H1394.40M1387.20 740.87H1394.40M1389.20 728.11H1394.40M1389.20 715.35H1394.40M1389.20 702.60H1394.40M1389.20 689.84H1394.40M1387.20 677.08H1394.40M1389.20 664.33H1394.40M1389.20 651.57H1394.40M1389.20 638.81H1394.40M1389.20 626.06H1394.40M1387.20 613.30H1394.40" fill="none" stroke="#404040" stroke-width="1.4"/>
<path d="M1394.40 996.00V1002.50M1437.90 996.00V1000.50M1481.40 996.00V1002.50M1524.90 996.00V1000.50M1568.40 996.00V1002.50M1611.90 996.00V1000.50M1655.40 996.00V1002.50M1698.90 996.00V1000.50M1742.40 996.00V1002.50M1785.90 996.00V1000.50M1829.40 996.00V1002.50M1872.90 996.00V1000.50M1916.40 996.00V1002.50" fill="none" stroke="#555" stroke-width="1.3"/>
<rect x="1411.00" y="624.00" width="12.60" height="11.90" rx="1" fill="#ffffff" stroke="#5a5a5a" stroke-width="1.3"/>
<rect x="1517.00" y="624.00" width="12.10" height="11.90" rx="1" fill="#ececec" stroke="#5a5a5a" stroke-width="1.3"/>
<rect x="1604.20" y="624.00" width="12.40" height="11.90" rx="1" fill="#808080" stroke="#3a3a3a" stroke-width="1.3"/>
<text transform="translate(1429.35,638.10) scale(0.992,1)" font-size="26.12" fill="#000">NC</text>
<text transform="translate(1534.68,638.10) scale(1.047,1)" font-size="26.12" fill="#000">C</text>
<text transform="translate(1622.88,638.10) scale(0.959,1)" font-size="26.12" fill="#000">F</text>
<text transform="translate(1328.63,1004.42) scale(0.957,1)" font-size="26.50" fill="#000">0.00</text>
<text transform="translate(1328.63,940.64) scale(0.957,1)" font-size="26.50" fill="#000">2.00</text>
<text transform="translate(1328.63,876.86) scale(0.957,1)" font-size="26.50" fill="#000">4.00</text>
<text transform="translate(1328.63,813.07) scale(0.957,1)" font-size="26.50" fill="#000">6.00</text>
<text transform="translate(1328.63,749.29) scale(0.957,1)" font-size="26.50" fill="#000">8.00</text>
<text transform="translate(1315.95,685.51) scale(0.957,1)" font-size="26.50" fill="#000">10.00</text>
<text transform="translate(1315.95,621.72) scale(0.957,1)" font-size="26.50" fill="#000">12.00</text>
<text transform="translate(1424.38,1033.84)" font-size="26.38" fill="#000">10</text>
<text transform="translate(1511.38,1033.84)" font-size="26.38" fill="#000">15</text>
<text transform="translate(1598.38,1033.84)" font-size="26.38" fill="#000">20</text>
<text transform="translate(1685.38,1033.84)" font-size="26.38" fill="#000">25</text>
<text transform="translate(1772.38,1033.84)" font-size="26.38" fill="#000">30</text>
<text transform="translate(1859.38,1033.84)" font-size="26.38" fill="#000">35</text>
<text transform="translate(1567.28,1066.70) scale(0.960,1)" font-size="26.12" fill="#000">Body weight (kg)</text>
<g clip-path="url(#clipF)">
<text transform="translate(1312.10,841.52) rotate(-90)" font-size="24.64" fill="#000">mg/day</text>
</g>
<text transform="translate(1319.85,584.20) scale(1.070,1)" font-size="35.13" font-weight="bold" fill="#000">(F)</text>
<text transform="translate(1402.52,584.20) scale(1.055,1)" font-size="26.73" font-weight="bold" fill="#000">Chromium (Cr)</text>
</svg>
</body></html>
